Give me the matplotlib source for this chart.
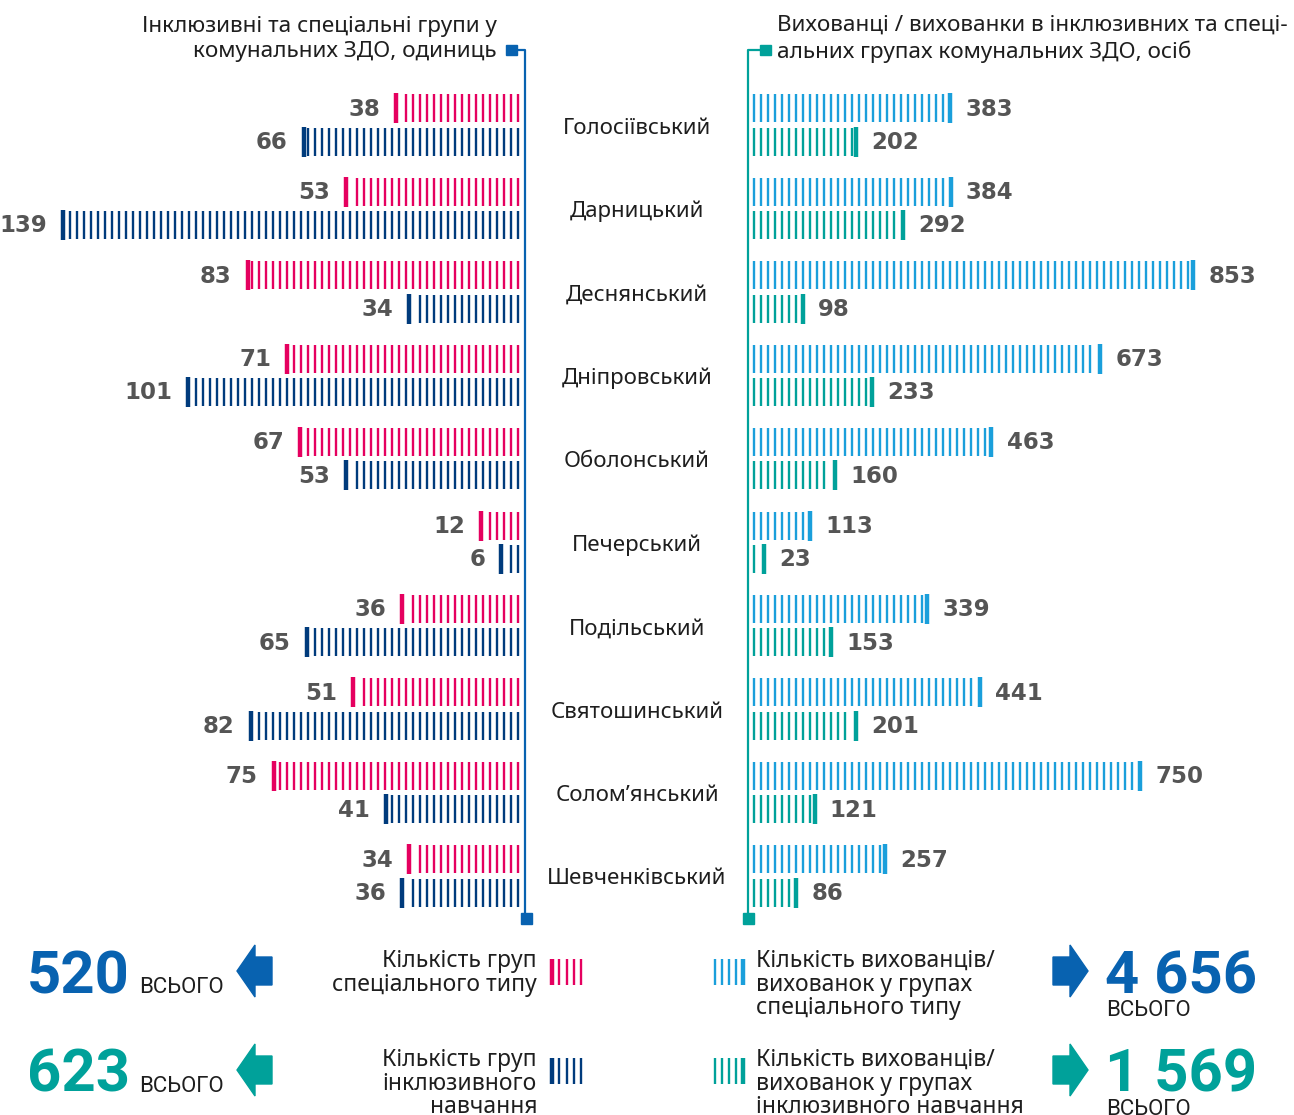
import numpy as np
import matplotlib.pyplot as plt
from matplotlib.patches import Polygon, Rectangle

# райони Києва та показатели
districts = ['Голосіївський', 'Дарницький', 'Деснянський', 'Дніпровський', 'Оболонський',
             'Печерський', 'Подільський', 'Святошинський', 'Солом\u2019янський', 'Шевченківський']
groups_special = [38, 53, 83, 71, 67, 12, 36, 51, 75, 34]
groups_inclusive = [66, 139, 34, 101, 53, 6, 65, 82, 41, 36]
kids_special = [383, 384, 853, 673, 463, 113, 339, 441, 750, 257]
kids_inclusive = [202, 292, 98, 233, 160, 23, 153, 201, 121, 86]

PINK = '#E5005F'
NAVY = '#003B7C'
SKY = '#1A9FDB'
TEAL = '#00A19A'
BLUE = '#0862B0'
GRAY = '#555555'
TXT = '#1e1e1e'
SANS = 'Noto Sans'

W, H = 1294, 1115
fig = plt.figure(figsize=(W / 100, H / 100), dpi=100)

# фон для підписів та декору в піксельних координатах
deco = fig.add_axes([0, 0, 1, 1])
deco.set_xlim(0, W)
deco.set_ylim(H, 0)
deco.axis('off')

row_top, row_bot = 125, 876
pitch = (row_bot - row_top) / 9
y_lo, y_hi = row_top - pitch / 2, row_bot + pitch / 2
ax_b = 1 - y_hi / H
ax_h = (y_hi - y_lo) / H

left_px, right_px = 521, 752
left_scale = 3.295   # px на одиницю
right_scale = 0.517

axL = fig.add_axes([0, ax_b, left_px / W, ax_h])
axL.set_xlim(left_px / left_scale, 0)
axR = fig.add_axes([right_px / W, ax_b, (W - right_px) / W, ax_h])
axR.set_xlim(0, (W - right_px) / right_scale)
for ax in (axL, axR):
    ax.set_ylim(9.5, -0.5)
    ax.axis('off')
    ax.patch.set_alpha(0)

off = 0.2
bh = 0.335


def striped_bar(ax, y, value, color, step, start, label_dx):
    xs = np.arange(start, value - 0.6 * step, step)
    ax.vlines(xs, y - bh / 2, y + bh / 2, color=color, lw=1.7)
    ax.vlines([value], y - bh / 2 - 0.012, y + bh / 2 + 0.012, color=color, lw=3.2)
    ax.annotate(str(value), xy=(value, y), xytext=(label_dx, 1.2), textcoords='offset points',
                ha='right' if label_dx < 0 else 'left', va='center_baseline',
                fontsize=16.5, fontweight='bold', color=GRAY, family='DejaVu Sans')


lstep = 7 / left_scale
rstep = 7 / right_scale
for i in range(len(districts)):
    striped_bar(axL, i - off, groups_special[i], PINK, lstep, 3 / left_scale, -11.5)
    striped_bar(axL, i + off, groups_inclusive[i], NAVY, lstep, 3 / left_scale, -11.5)
    striped_bar(axR, i - off, kids_special[i], SKY, rstep, 2 / right_scale, 11)
    striped_bar(axR, i + off, kids_inclusive[i], TEAL, rstep, 2 / right_scale, 11)
    deco.text(637, row_top + 3 + i * pitch, districts[i], ha='center', va='center',
              fontsize=16, color=TXT, family=SANS)

# осьові лінії з маркерами
deco.plot([511, 525, 525], [50, 50, 918], color=BLUE, lw=1.6)
deco.add_patch(Rectangle((506, 45), 11, 10, color=BLUE))
deco.add_patch(Rectangle((521, 913), 11, 11, color=BLUE))
deco.plot([765, 748, 748], [50, 50, 918], color=TEAL, lw=1.6)
deco.add_patch(Rectangle((760, 45), 11, 10, color=TEAL))
deco.add_patch(Rectangle((743, 913), 11, 11, color=TEAL))

deco.text(497, 39, 'Інклюзивні та спеціальні групи у\nкомунальних ЗДО, одиниць', ha='right',
          va='center', fontsize=16.2, color=TXT, family=SANS, linespacing=1.28)
deco.text(777, 39, 'Вихованці / вихованки в інклюзивних та спеці-\nальних групах комунальних ЗДО, осіб',
          ha='left', va='center', fontsize=16.2, color=TXT, family=SANS, linespacing=1.28)


def fmt(n):
    return f'{n:,}'.replace(',', ' ')


def arrow(x0, x1, yc, color, left):
    # x0..x1 — горизонтальні межі стрілки
    if left:
        pts = [(x0, yc), (x0 + 18, yc - 26), (x0 + 18, yc - 14), (x1, yc - 14),
               (x1, yc + 14), (x0 + 18, yc + 14), (x0 + 18, yc + 26)]
    else:
        pts = [(x1, yc), (x1 - 18, yc - 26), (x1 - 18, yc - 14), (x0, yc - 14),
               (x0, yc + 14), (x1 - 18, yc + 14), (x1 - 18, yc + 26)]
    deco.add_patch(Polygon(pts, closed=True, color=color))


def legend_icon(x0, x1, y0, y1, color, thick_left):
    xs = np.linspace(x0, x1, 5)
    for k, x in enumerate(xs):
        thick = (k == 0) if thick_left else (k == len(xs) - 1)
        deco.plot([x, x], [y0, y1], color=color, lw=3.2 if thick else 1.7, solid_capstyle='butt')


rows = [(971, sum(groups_special), sum(kids_special), BLUE, PINK, SKY,
         'Кількість груп\nспеціального типу',
         'Кількість вихованців/\nвихованок у групах\nспеціального типу'),
        (1070, sum(groups_inclusive), sum(kids_inclusive), TEAL, NAVY, TEAL,
         'Кількість груп\nінклюзивного\nнавчання',
         'Кількість вихованців/\nвихованок у групах\nінклюзивного навчання')]
for yc, g_tot, k_tot, col, gcol, kcol, gtxt, ktxt in rows:
    deco.text(27, yc + 22, fmt(g_tot), ha='left', va='baseline', fontsize=43,
              fontweight='bold', color=col, family='Roboto')
    deco.text(139, yc + 22, 'ВСЬОГО', ha='left', va='baseline', fontsize=16,
              color=TXT, family='Roboto')
    arrow(237, 272, yc, col, True)
    deco.text(537, yc - 22, gtxt, ha='right', va='top', fontsize=16.5, color=TXT,
              family=SANS, linespacing=0.98)
    legend_icon(552, 581, yc - 12, yc + 14, gcol, True)
    legend_icon(715, 743, yc - 12, yc + 14, kcol, False)
    deco.text(756, yc - 22, ktxt, ha='left', va='top', fontsize=16.5, color=TXT,
              family=SANS, linespacing=0.98)
    arrow(1053, 1088, yc, col, False)
    deco.text(1105, yc + 22, fmt(k_tot), ha='left', va='baseline', fontsize=43,
              fontweight='bold', color=col, family='Roboto')
    deco.text(1106, yc + 45, 'ВСЬОГО', ha='left', va='baseline', fontsize=16,
              color=TXT, family='Roboto')

fig.savefig('out.png', dpi=100, facecolor='white')
